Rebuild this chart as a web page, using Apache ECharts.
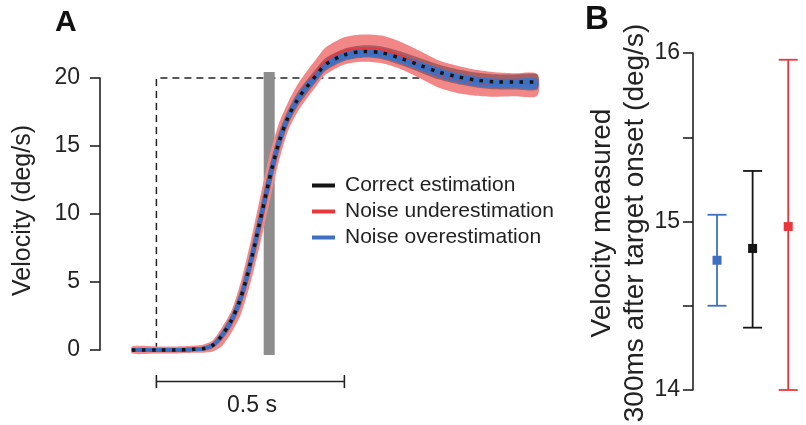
<!DOCTYPE html>
<html><head><meta charset="utf-8">
<script src="https://cdn.jsdelivr.net/npm/echarts@6/dist/echarts.min.js"></script>
<style>html,body{margin:0;padding:0;background:#fff}#c{width:806px;height:425px}</style>
</head><body><div id="c"></div>
<script>
// ---- Panel A data (time in seconds from target onset, velocity in deg/s) ----
const timeS      = [-0.065, 0, 0.05, 0.1, 0.125, 0.15, 0.175, 0.2, 0.225, 0.25, 0.275, 0.3, 0.325, 0.35, 0.375, 0.4, 0.425, 0.45, 0.5, 0.55, 0.6, 0.65, 0.7, 0.75, 0.8, 0.85, 0.9, 0.95, 1.013];
const correctVel = [0, 0, 0, 0.05, 0.1, 0.35, 1.1, 2.2, 3.9, 6.4, 9.4, 12.5, 15.2, 17.1, 18.4, 19.35, 20.2, 21.0, 21.7, 21.95, 21.85, 21.45, 20.95, 20.45, 20.1, 19.85, 19.72, 19.7, 19.7];
const underVel   = [0, 0, 0, 0.05, 0.1, 0.3, 1.0, 2.1, 3.85, 6.4, 9.4, 12.5, 15.2, 17.15, 18.5, 19.5, 20.4, 21.25, 22.0, 22.2, 22.1, 21.65, 21.0, 20.3, 19.9, 19.65, 19.52, 19.5, 19.5];
const overVel    = [0, 0, 0, 0.05, 0.1, 0.35, 1.1, 2.2, 3.9, 6.4, 9.4, 12.5, 15.2, 17.1, 18.4, 19.35, 20.15, 20.95, 21.6, 21.85, 21.75, 21.4, 20.9, 20.4, 20.0, 19.75, 19.62, 19.6, 19.6];
const correctSD  = [0.12, 0.12, 0.12, 0.13, 0.15, 0.2, 0.34, 0.44, 0.62, 0.78, 0.9, 0.92, 0.75, 0.55, 0.52, 0.5, 0.5, 0.47, 0.45, 0.45, 0.47, 0.5, 0.52, 0.55, 0.55, 0.55, 0.55, 0.55, 0.55];
const underSD    = [0.26, 0.26, 0.26, 0.26, 0.3, 0.41, 0.69, 0.8, 1.2, 1.5, 1.7, 1.75, 1.4, 1.05, 1.0, 1.0, 1.0, 1.0, 1.0, 1.0, 1.02, 1.0, 1.0, 1.0, 1.0, 0.95, 0.9, 0.85, 0.8];
const overSD     = [0.1, 0.1, 0.1, 0.1, 0.12, 0.15, 0.28, 0.36, 0.5, 0.62, 0.7, 0.72, 0.58, 0.42, 0.38, 0.36, 0.36, 0.33, 0.3, 0.3, 0.3, 0.32, 0.33, 0.34, 0.35, 0.35, 0.35, 0.35, 0.35];
const targetTime = [0, 0, 1.0];
const targetVel  = [0, 20, 20];
const measureTime = 0.3;
const measureBarVel = [-0.37, 20.45];
const scaleBarTime = [0, 0.5];
const scaleBarLabel = '0.5 s';
const legendNames = ['Correct estimation', 'Noise underestimation', 'Noise overestimation'];

// ---- Panel B data ----
const conditionNames = ['Noise overestimation', 'Correct estimation', 'Noise underestimation'];
const conditionPos   = [1, 2, 3];
const measuredMean   = [14.77, 14.84, 14.97];
const measuredLow    = [14.50, 14.37, 14.00];
const measuredHigh   = [15.04, 15.30, 15.96];
const yTicksB = [14, 15, 16];

// ---- styles ----
const FONT = 'Liberation Sans, Arial, Helvetica, sans-serif';
const C = { black: '#151515', red: '#E8383D', blue: '#3F6FC0', redBand: '#F28787', blackBand: 'rgba(60,35,40,0.4)', blueBand: '#4472C2', gray: '#8d8d8d', axis: '#222' };
const condColors = [C.blue, C.black, C.red];

const pairs = (xs, ys) => xs.map((x, i) => [x, ys[i]]);

function band(id, center, sd, color, z) {
  return {
    type: 'custom', name: id + '-band', xAxisIndex: 0, yAxisIndex: 0, silent: true, clip: false, z: z,
    data: [[0, 0]],
    renderItem: function (params, api) {
      const up = timeS.map((t, i) => api.coord([t, center[i] + sd[i]]));
      const lo = timeS.map((t, i) => api.coord([t, center[i] - sd[i]])).reverse();
      return { type: 'polygon', shape: { points: up.concat(lo), smooth: 0.25 }, style: { fill: color } };
    }
  };
}
function plainLine(data, color, width, type, z, name) {
  return { type: 'line', name: name, xAxisIndex: 0, yAxisIndex: 0, data: data, symbol: 'none', clip: false, silent: true,
    smooth: name ? 0.3 : false, itemStyle: { color: color },
    lineStyle: { color: color, width: width, type: type || 'solid', cap: 'butt' }, z: z };
}

const xMinA = -0.15, xMaxA = 1.05, pxPerSec = 376;
const series = [
  plainLine(pairs(targetTime, targetVel), C.axis, 1.5, [7, 5], 1),
  plainLine(measureBarVel.map(v => [measureTime, v]), C.gray, 11, 'solid', 2),
  band('under', underVel, underSD, C.redBand, 3),
  band('correct', correctVel, correctSD, C.blackBand, 4),
  band('over', overVel, overSD, C.blueBand, 5),
  plainLine(pairs(timeS, underVel), C.red, 2.2, 'solid', 6, 'Noise underestimation'),
  plainLine(pairs(timeS, overVel), C.blue, 4, 'solid', 7, 'Noise overestimation'),
  plainLine(pairs(timeS, correctVel), C.black, 3.5, [3.5, 6.5], 8, 'Correct estimation'),
  // scale bar
  plainLine(scaleBarTime.map(t => [t, -2.32]), C.axis, 1.6, 'solid', 2),
  plainLine([[scaleBarTime[0], -1.84], [scaleBarTime[0], -2.8]], C.axis, 1.6, 'solid', 2),
  plainLine([[scaleBarTime[1], -1.84], [scaleBarTime[1], -2.8]], C.axis, 1.6, 'solid', 2),
  // Panel B error bars
  {
    type: 'custom', name: 'measured', xAxisIndex: 1, yAxisIndex: 1, silent: true, clip: false,
    data: conditionPos.map((p, i) => [p, measuredMean[i], measuredLow[i], measuredHigh[i]]),
    renderItem: function (params, api) {
      const x = api.value(0);
      const pM = api.coord([x, api.value(1)]);
      const pL = api.coord([x, api.value(2)]);
      const pH = api.coord([x, api.value(3)]);
      const col = condColors[params.dataIndex];
      const cap = 9.5, ms = 9;
      const st = { stroke: col, lineWidth: 1.8 };
      return { type: 'group', children: [
        { type: 'line', shape: { x1: pL[0], y1: pL[1], x2: pH[0], y2: pH[1] }, style: st },
        { type: 'line', shape: { x1: pL[0] - cap, y1: pL[1], x2: pL[0] + cap, y2: pL[1] }, style: st },
        { type: 'line', shape: { x1: pH[0] - cap, y1: pH[1], x2: pH[0] + cap, y2: pH[1] }, style: st },
        { type: 'rect', shape: { x: pM[0] - ms / 2, y: pM[1] - ms / 2, width: ms, height: ms }, style: { fill: col } }
      ]};
    }
  }
];

const chart = echarts.init(document.getElementById('c'), null, { renderer: 'canvas' });
chart.setOption({
  animation: false,
  backgroundColor: '#fff',
  grid: [
    { left: 100, top: 78, width: (xMaxA - xMinA) * pxPerSec, height: 272 },
    { left: 693, top: 53, width: 127, height: 337 }
  ],
  xAxis: [
    { type: 'value', gridIndex: 0, min: xMinA, max: xMaxA, show: false },
    { type: 'value', gridIndex: 1, min: 0.325, max: 3.5, show: false }
  ],
  yAxis: [
    { type: 'value', gridIndex: 0, min: 0, max: 20, interval: 5,
      axisLine: { show: true, onZero: false, lineStyle: { color: C.axis, width: 1.6 } },
      axisTick: { show: true, length: 10, lineStyle: { color: C.axis, width: 1.6 } },
      axisLabel: { margin: 20, fontSize: 23, color: C.axis, fontFamily: FONT },
      splitLine: { show: false } },
    { type: 'value', gridIndex: 1, min: 14, max: 16, interval: 0.5,
      axisLine: { show: true, onZero: false, lineStyle: { color: C.axis, width: 1.6 } },
      axisTick: { show: true, length: 10, lineStyle: { color: C.axis, width: 1.6 } },
      axisLabel: { margin: 13, fontSize: 23, color: C.axis, fontFamily: FONT,
        formatter: v => (yTicksB.indexOf(v) >= 0 ? String(v) : '') },
      splitLine: { show: false } }
  ],
  legend: {
    data: legendNames.map(n => ({ name: n, icon: 'rect' })),
    orient: 'vertical', left: 312, top: 175, padding: 0, itemWidth: 23, itemHeight: 4, itemGap: 5,
    selectedMode: false,
    textStyle: { fontSize: 21, color: C.axis, fontFamily: FONT, padding: [0, 0, 0, 5] }
  },
  graphic: [
    { type: 'text', x: 55, y: 22.5, style: { text: 'A', font: 'bold 30px ' + FONT, fill: '#111', align: 'left', verticalAlign: 'middle' } },
    { type: 'text', x: 585, y: 19.5, style: { text: 'B', font: 'bold 33px ' + FONT, fill: '#111', align: 'left', verticalAlign: 'middle' } },
    { type: 'text', x: 23, y: 210.5, rotation: Math.PI / 2, style: { text: 'Velocity (deg/s)', font: '25px ' + FONT, fill: C.axis, align: 'center', verticalAlign: 'middle' } },
    { type: 'text', x: 602, y: 223, rotation: Math.PI / 2, style: { text: 'Velocity measured', font: '28px ' + FONT, fill: C.axis, align: 'center', verticalAlign: 'middle' } },
    { type: 'text', x: 635, y: 223, rotation: Math.PI / 2, style: { text: '300ms after target onset (deg/s)', font: '28px ' + FONT, fill: C.axis, align: 'center', verticalAlign: 'middle' } },
    { type: 'text', x: 252, y: 406, style: { text: scaleBarLabel, font: '23px ' + FONT, fill: C.axis, align: 'center', verticalAlign: 'middle' } }
  ],
  series: series
});
</script></body></html>
